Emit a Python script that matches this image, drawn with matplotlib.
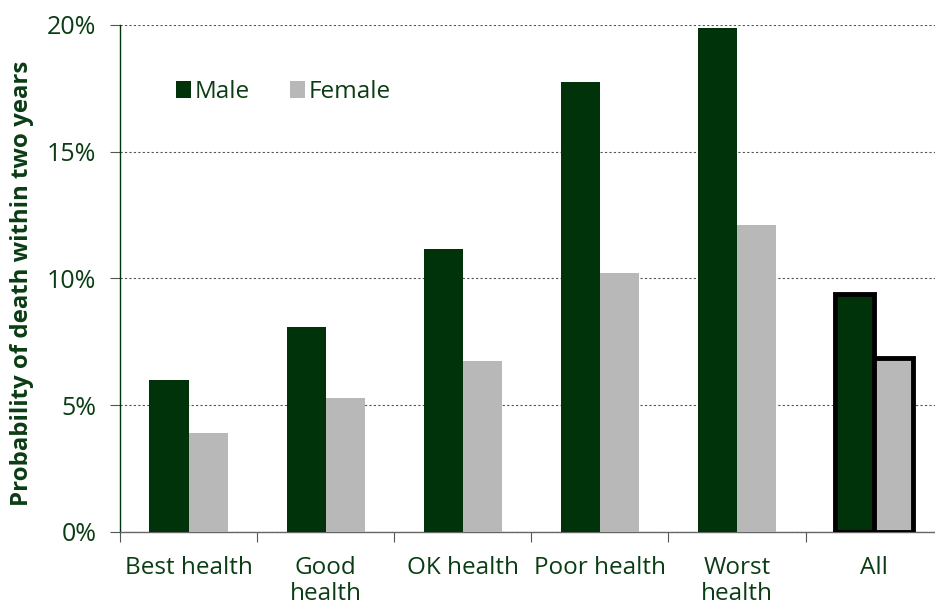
import matplotlib
matplotlib.use("Agg")
import matplotlib.pyplot as plt
from matplotlib.patches import Patch
import numpy as np

categories = ["Best health", "Good\nhealth", "OK health", "Poor health", "Worst\nhealth", "All"]
male = [6.0, 8.1, 11.15, 17.75, 19.9, 9.4]
female = [3.9, 5.3, 6.75, 10.2, 12.1, 6.85]
yticks = [0, 5, 10, 15, 20]

GREEN = "#00330a"
GRAY = "#b8b8b8"
TEXT = "#0a3d14"

plt.rcParams['font.family'] = ['Open Sans', 'DejaVu Sans']

fig = plt.figure(figsize=(9.35, 6.05), dpi=100)
ax = fig.add_axes([0.1283, 0.1207, 0.880, 0.838])

x = np.arange(len(categories))
w = 0.285
n = len(categories)
for i in range(n):
    last = (i == n - 1)
    kw = dict(edgecolor="black", linewidth=3.5) if last else dict(linewidth=0)
    ax.bar(x[i] - w/2, male[i], w, color=GREEN, zorder=3, **kw)
    ax.bar(x[i] + w/2, female[i], w, color=GRAY, zorder=3, **kw)

ax.set_xlim(-0.5, n - 0.5)
ax.set_ylim(0, 20)
ax.set_yticks(yticks)
ax.set_yticklabels([f"{v}%" for v in yticks], fontsize=18, color=TEXT)
ax.yaxis.grid(True, linestyle=(0, (2, 2)), color="#555555", linewidth=0.8, zorder=0)
ax.set_axisbelow(True)

ax.set_xticks(np.arange(-0.5, n, 1.0))
ax.set_xticklabels([])
ax.set_xticks(x, minor=True)
ax.set_xticklabels(categories, minor=True, fontsize=17.5, color=TEXT, va="top", linespacing=1.15)
ax.tick_params(axis="x", which="minor", length=0, pad=17)
ax.tick_params(axis="x", which="major", length=7, color="#555555", direction="out")
ax.tick_params(axis="y", length=7, color="#555555", direction="out", pad=10)

for s in ["top", "right"]:
    ax.spines[s].set_visible(False)
ax.spines["left"].set_color(GREEN)
ax.spines["left"].set_linewidth(1.0)
ax.spines["bottom"].set_color("#666666")
ax.spines["bottom"].set_linewidth(1.0)

ax.set_ylabel("Probability of death within two years", fontsize=17.3, fontweight="bold",
              color=TEXT)
ax.yaxis.set_label_coords(-0.105, 0.49)

handles = [Patch(facecolor=GREEN, edgecolor="none"), Patch(facecolor=GRAY, edgecolor="none")]
leg = ax.legend(handles, ["Male", "Female"], ncol=2, frameon=False, fontsize=17.5,
                loc="upper left", bbox_to_anchor=(0.05, 0.92), handlelength=0.65,
                handleheight=0.65, handletextpad=0.12, columnspacing=1.65, borderaxespad=0.2)
for t in leg.get_texts():
    t.set_color(TEXT)

fig.savefig("out.png", dpi=100)
